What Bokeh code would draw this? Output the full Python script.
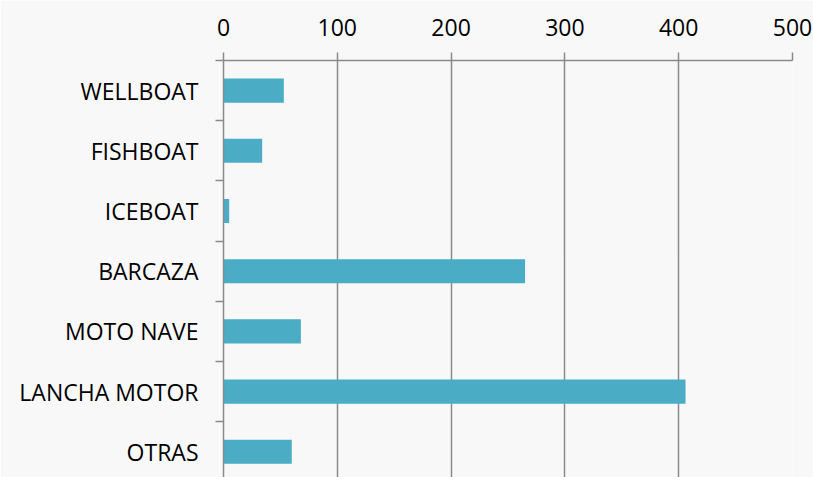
from bokeh.plotting import figure
from bokeh.models import Range1d, FixedTicker, LinearAxis, ColumnDataSource, Grid
from bokeh.embed import file_html
from bokeh.resources import INLINE

categories = ["WELLBOAT", "FISHBOAT", "ICEBOAT", "BARCAZA", "MOTO NAVE", "LANCHA MOTOR", "OTRAS"]
values = [53, 34, 5, 265, 68, 406, 60]
x_ticks = [0, 100, 200, 300, 400, 500]

BG = "#f8f8f8"
GRID = "#8a8a8a"
BAR = "#4bacc6"
FONT = "Open Sans"
FS = "23px"

pos = list(range(len(categories)))
src = ColumnDataSource(dict(y=pos, v=values, cat=categories))

p = figure(width=813, height=477, output_backend="svg", toolbar_location=None,
           x_range=Range1d(0, 500), y_range=Range1d(6.427, -0.5),
           x_axis_location=None, y_axis_location=None,
           min_border_left=223, min_border_right=21, min_border_top=60, min_border_bottom=0)
p.background_fill_color = BG
p.border_fill_color = BG
p.outline_line_color = None

p.hbar(y="y", right="v", left=0, height=0.4, source=src, fill_color=BAR, line_color=None)

xa = LinearAxis(ticker=FixedTicker(ticks=x_ticks))
xa.axis_line_color = GRID
xa.axis_line_width = 1.5
xa.major_tick_line_color = GRID
xa.major_tick_line_width = 1.5
xa.major_tick_out = 8
xa.major_tick_in = 0
xa.minor_tick_line_color = None
xa.major_label_text_font = FONT
xa.major_label_text_font_size = FS
xa.major_label_text_color = "#000000"
xa.major_label_standoff = 17
p.add_layout(xa, "above")

ya = LinearAxis(ticker=FixedTicker(ticks=pos, minor_ticks=[i - 0.5 for i in range(len(categories) + 1)]))
ya.major_label_overrides = {i: c for i, c in enumerate(categories)}
ya.axis_line_color = GRID
ya.axis_line_width = 1.5
ya.major_tick_line_color = None
ya.major_tick_out = 0
ya.major_tick_in = 0
ya.minor_tick_line_color = GRID
ya.minor_tick_line_width = 1.5
ya.minor_tick_out = 8
ya.minor_tick_in = 0
ya.major_label_text_font = FONT
ya.major_label_text_font_size = FS
ya.major_label_text_color = "#000000"
ya.major_label_standoff = 17
p.add_layout(ya, "left")

p.xgrid.grid_line_color = None
p.ygrid.grid_line_color = None
g = Grid(dimension=0, ticker=FixedTicker(ticks=x_ticks), grid_line_color=GRID, grid_line_width=1.5)
p.add_layout(g)

open("out.html", "w").write(file_html(p, INLINE))
